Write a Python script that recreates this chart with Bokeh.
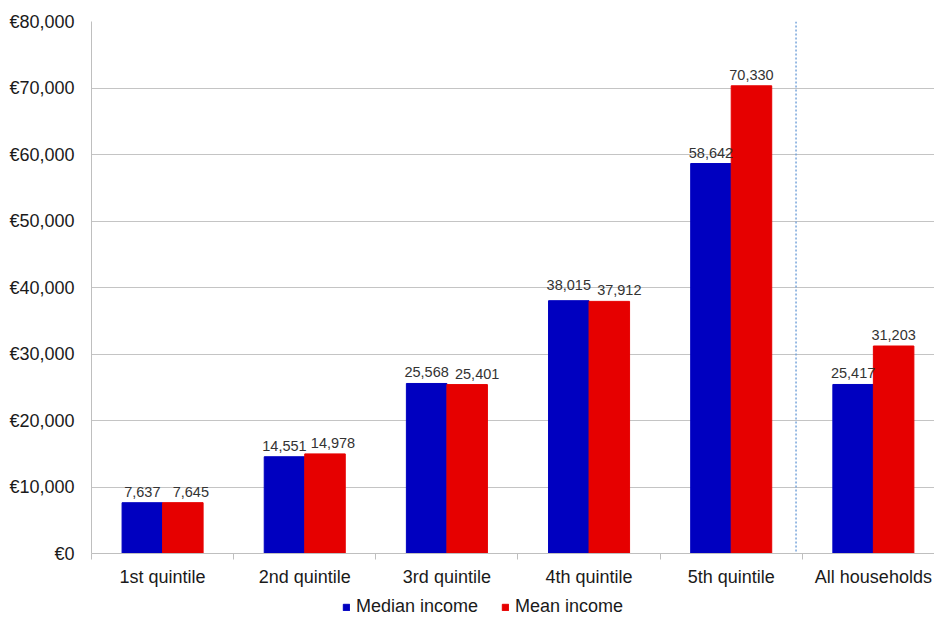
from bokeh.plotting import figure
from bokeh.layouts import column
from bokeh.models import Range1d, FixedTicker, Span, Legend, LegendItem, ColumnDataSource
from bokeh.core.properties import value
from bokeh.embed import file_html
from bokeh.resources import INLINE

categories = ["1st quintile", "2nd quintile", "3rd quintile", "4th quintile", "5th quintile", "All households"]
median_income = [7637, 14551, 25568, 38015, 58642, 25417]
mean_income = [7645, 14978, 25401, 37912, 70330, 31203]
series_names = ["Median income", "Mean income"]
y_ticks = [0, 10000, 20000, 30000, 40000, 50000, 60000, 70000, 80000]

# label nudges (pixels) to keep neighbouring labels apart, as in the original
median_label_dy = [0, 0, 0, -5, 0, 0]
mean_label_dx = [8, 8, 10, 10, 0, 0]

FONT = "Liberation Sans"
BLUE = "#0000C0"
RED = "#E60000"
TXT = "#1a1a1a"
BW = 0.285

centers = [i + 0.5 for i in range(len(categories))]
src_med = ColumnDataSource(dict(x=[c - BW / 2 for c in centers], top=median_income,
                                lab=[f"{v:,}" for v in median_income],
                                dx=[0] * len(categories), dy=[-6 + d for d in median_label_dy]))
src_mean = ColumnDataSource(dict(x=[c + BW / 2 for c in centers], top=mean_income,
                                 lab=[f"{v:,}" for v in mean_income],
                                 dx=mean_label_dx, dy=[-6] * len(categories)))

p = figure(width=934, height=590, output_backend="svg", toolbar_location=None,
           x_range=Range1d(0, 5.93), y_range=Range1d(0, 80000),
           min_border_left=91, min_border_right=0, min_border_top=21, min_border_bottom=37)
p.outline_line_color = None
p.background_fill_color = "white"
p.border_fill_color = "white"

p.vbar(x="x", top="top", width=BW, source=src_med, fill_color=BLUE, line_color=BLUE)
p.vbar(x="x", top="top", width=BW, source=src_mean, fill_color=RED, line_color=RED)

for src in (src_med, src_mean):
    p.text(x="x", y="top", text="lab", source=src, text_align="center", text_baseline="bottom",
           x_offset="dx", y_offset="dy", text_font=value(FONT), text_font_size="14.5px",
           text_color="#333333")

p.add_layout(Span(location=4.956, dimension="height", line_color="#6F9FD8",
                  line_dash="2 2", line_width=1.4))

# axes
p.xgrid.visible = False
p.ygrid.ticker = FixedTicker(ticks=y_ticks)
p.ygrid.grid_line_color = "#C4C4C4"

p.yaxis.ticker = FixedTicker(ticks=y_ticks)
p.yaxis.major_label_overrides = {v: f"€{v:,}" for v in y_ticks}
p.yaxis.major_tick_line_color = None
p.yaxis.minor_tick_line_color = None
p.yaxis.axis_line_color = "#BFBFBF"
p.yaxis.major_label_text_font = FONT
p.yaxis.major_label_text_font_size = "18px"
p.yaxis.major_label_text_color = TXT
p.yaxis.major_label_standoff = 11

p.xaxis.ticker = FixedTicker(ticks=centers, minor_ticks=[0, 1, 2, 3, 4, 5, 6])
p.xaxis.major_label_overrides = {c: n for c, n in zip(centers, categories)}
p.xaxis.major_tick_line_color = None
p.xaxis.minor_tick_line_color = "#BFBFBF"
p.xaxis.minor_tick_out = 6
p.xaxis.minor_tick_in = 0
p.xaxis.axis_line_color = "#BFBFBF"
p.xaxis.major_label_text_font = FONT
p.xaxis.major_label_text_font_size = "18px"
p.xaxis.major_label_text_color = TXT
p.xaxis.major_label_standoff = 7

# legend strip below the chart (its frame is aligned with the chart's frame)
lg = figure(width=934, height=27, output_backend="svg", toolbar_location=None,
            x_range=Range1d(0, 1), y_range=Range1d(0, 1),
            x_axis_location=None, y_axis_location=None,
            min_border_left=0, min_border_right=0, min_border_top=0, min_border_bottom=0)
lg.outline_line_color = None
lg.xgrid.visible = False
lg.ygrid.visible = False
# off-range placeholder renderers: only their legend swatches are shown
d_med = lg.vbar(x=[-5], top=[0], width=0.1, fill_color=BLUE, line_color=BLUE)
d_mean = lg.vbar(x=[-5], top=[0], width=0.1, fill_color=RED, line_color=RED)
legend = Legend(items=[LegendItem(label=series_names[0], renderers=[d_med]),
                       LegendItem(label=series_names[1], renderers=[d_mean])],
                orientation="horizontal", location=(251, 0),
                label_text_font=FONT, label_text_font_size="18px", label_text_color=TXT,
                glyph_width=8, glyph_height=8, label_height=18, label_standoff=6,
                spacing=23, padding=0, margin=0,
                border_line_color=None, background_fill_alpha=0)
lg.add_layout(legend, "center")

open("out.html", "w").write(file_html(column(p, lg, spacing=0), INLINE))
